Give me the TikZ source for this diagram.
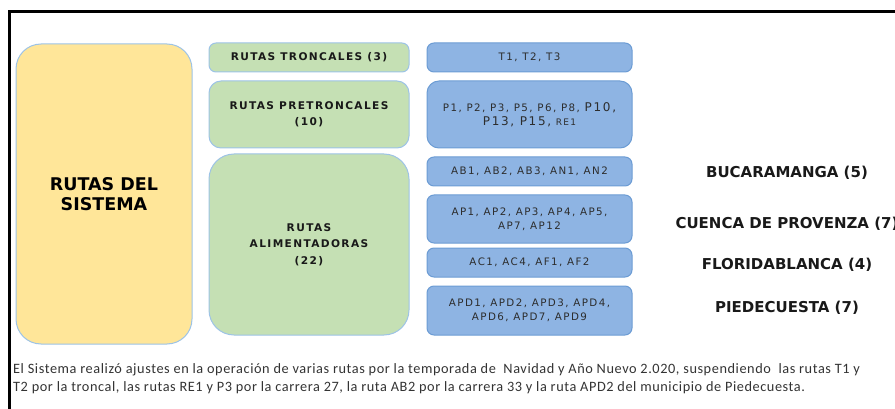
\documentclass[tikz,border=0pt]{standalone}
\usepackage{fontspec}
\setmainfont{Carlito}
\newfontfamily\cajafont[LetterSpace=13]{DejaVu Sans}
\newfontfamily\listafont[LetterSpace=14]{DejaVu Sans}
\newfontfamily\titulofont{DejaVu Sans}
\newfontfamily\notafont[LetterSpace=4]{Carlito}
\usetikzlibrary{positioning}
\usepackage{xcolor}
\definecolor{amarillo}{RGB}{255,230,153}
\definecolor{verde}{RGB}{197,224,180}
\definecolor{azul}{RGB}{142,180,227}
\definecolor{bordeazul}{RGB}{108,156,212}
\definecolor{bordeclaro}{RGB}{157,195,230}
\definecolor{texto}{RGB}{45,45,45}

\begin{document}
\begin{tikzpicture}[
    x=1pt, y=-1pt,
    sistema/.style={rectangle, draw=bordeclaro, fill=amarillo, line width=1pt,
                    rounded corners=25pt, minimum width=176pt, minimum height=300pt,
                    align=center, font=\titulofont\bfseries\fontsize{17.5}{20}\selectfont},
    grupo/.style={rectangle, draw=bordeclaro, fill=verde, line width=1pt,
                  minimum width=200pt, align=center, text=black!90,
                  font=\cajafont\bfseries\fontsize{10.6}{16.5}\selectfont},
    rutas/.style={rectangle, draw=bordeazul, fill=azul, line width=1pt,
                  rounded corners=7pt, minimum width=205pt, align=center, text=texto,
                  font=\listafont\fontsize{10.3}{14}\selectfont},
    zona/.style={font=\titulofont\bfseries\fontsize{15}{17}\selectfont, text=black!90},
    nota/.style={anchor=north west, align=left, text=black!80,
                 font=\notafont\fontsize{14.3}{18}\selectfont}
  ]
    \useasboundingbox (0,0) rectangle (895,409);

    % Marco
    \draw[line width=2.5pt] (9.5,409) -- (9.5,11.5) -- (895,11.5);

    % Caja principal
    \node[sistema] (sis) at (104,194) {RUTAS DEL\\SISTEMA};

    % Grupos de rutas
    \node[grupo, rounded corners=7pt, minimum height=29pt] (tron) at (309,57.5)
      {RUTAS TRONCALES (3)};
    \node[grupo, rounded corners=12pt, minimum height=67pt] (pret) at (309,114.5)
      {RUTAS PRETRONCALES\\(10)};
    \node[grupo, rounded corners=25pt, minimum height=181pt] (alim) at (309,244.5)
      {RUTAS\\ALIMENTADORAS\\(22)};

    % Listas de rutas
    \node[rutas, minimum height=29pt] (t) at (529.5,57.5) {T1, T2, T3};
    \node[rutas, rounded corners=12pt, minimum height=67pt] (p) at (529.5,114.5)
      {P1, P2, P3, P5, P6, P8, {\fontsize{12}{14}\selectfont P10,}\\
       {\fontsize{12}{14}\selectfont P13, P15,} {\fontsize{9}{14}\selectfont RE1}};
    \node[rutas, minimum height=29pt] (ab) at (529.5,171.5)
      {AB1, AB2, AB3, AN1, AN2};
    \node[rutas, minimum height=48pt] (ap) at (529.5,219)
      {AP1, AP2, AP3, AP4, AP5,\\AP7, AP12};
    \node[rutas, minimum height=29pt] (ac) at (529.5,262.5)
      {AC1, AC4, AF1, AF2};
    \node[rutas, minimum height=49pt] (apd) at (529.5,310.5)
      {APD1, APD2, APD3, APD4,\\APD6, APD7, APD9};

    % Municipios
    \node[zona] (buc) at (787,173) {BUCARAMANGA (5)};
    \node[zona] (cue) at (787,224) {CUENCA DE PROVENZA (7)};
    \node[zona] (flo) at (787,265) {FLORIDABLANCA (4)};
    \node[zona] (pie) at (787,308) {PIEDECUESTA (7)};

    % Nota
    \node[nota, inner sep=0pt] (nota) at (13,363)
      {El Sistema realizó ajustes en la operación de varias rutas por la temporada de \ Navidad y Año Nuevo 2.020, suspendiendo \ las rutas T1 y\\
       T2 por la troncal, las rutas RE1 y P3 por la carrera 27, la ruta AB2 por la carrera 33 y la ruta APD2 del municipio de Piedecuesta.};
  \end{tikzpicture}
\end{document}
